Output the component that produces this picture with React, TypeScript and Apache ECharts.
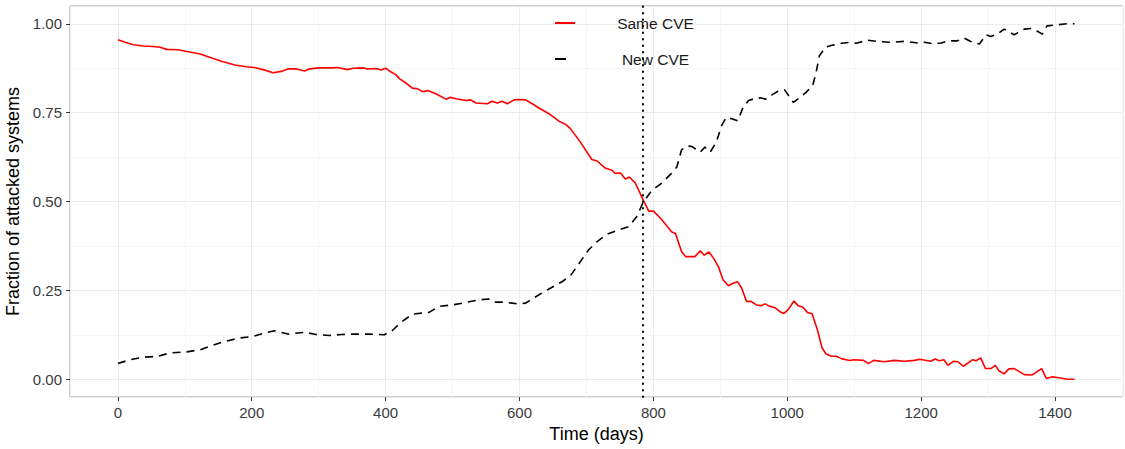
import React, { useEffect, useRef } from "react";
import * as echarts from "echarts";

// ---- data ----
const sameDays = [0, 11, 23, 38, 53, 63, 73, 90, 103, 123, 137, 157, 175, 192, 204, 217, 232, 244, 254, 267, 279, 286, 301, 321, 328, 343, 351, 366, 373, 386, 393, 400, 405, 415, 421, 430, 440, 448, 455, 463, 475, 490, 497, 505, 520, 527, 535, 552, 559, 567, 574, 582, 592, 599, 609, 619, 629, 644, 659, 669, 676, 691, 708, 716, 728, 738, 743, 751, 758, 764, 773, 785, 793, 800, 812, 827, 833, 842, 848, 862, 870, 876, 883, 890, 897, 904, 912, 919, 926, 932, 939, 946, 954, 961, 967, 974, 981, 989, 995, 1001, 1010, 1016, 1023, 1030, 1037, 1045, 1052, 1058, 1066, 1073, 1081, 1093, 1100, 1114, 1121, 1129, 1145, 1160, 1175, 1190, 1198, 1214, 1221, 1227, 1234, 1240, 1248, 1255, 1263, 1277, 1282, 1289, 1296, 1304, 1311, 1316, 1324, 1331, 1339, 1354, 1366, 1380, 1387, 1396, 1406, 1418, 1429];
const sameValues = [0.955, 0.948, 0.941, 0.9375, 0.936, 0.934, 0.928, 0.927, 0.922, 0.915, 0.906, 0.893, 0.884, 0.879, 0.877, 0.871, 0.862, 0.866, 0.873, 0.873, 0.867, 0.873, 0.876, 0.876, 0.877, 0.871, 0.875, 0.876, 0.873, 0.874, 0.87, 0.875, 0.868, 0.857, 0.845, 0.834, 0.819, 0.817, 0.809, 0.812, 0.803, 0.788, 0.793, 0.789, 0.784, 0.786, 0.777, 0.775, 0.782, 0.777, 0.782, 0.775, 0.786, 0.787, 0.786, 0.775, 0.763, 0.747, 0.726, 0.717, 0.705, 0.667, 0.618, 0.614, 0.594, 0.588, 0.579, 0.58, 0.563, 0.569, 0.552, 0.503, 0.473, 0.473, 0.45, 0.415, 0.41, 0.359, 0.345, 0.345, 0.361, 0.349, 0.358, 0.34, 0.317, 0.28, 0.263, 0.27, 0.274, 0.256, 0.219, 0.219, 0.209, 0.207, 0.212, 0.205, 0.202, 0.19, 0.185, 0.195, 0.22, 0.207, 0.203, 0.188, 0.184, 0.139, 0.088, 0.071, 0.0645, 0.0645, 0.058, 0.0525, 0.055, 0.053, 0.044, 0.053, 0.049, 0.053, 0.0505, 0.053, 0.056, 0.0505, 0.057, 0.052, 0.055, 0.039, 0.0505, 0.049, 0.0365, 0.055, 0.052, 0.06, 0.03, 0.03, 0.039, 0.024, 0.015, 0.029, 0.03, 0.013, 0.012, 0.03, 0.002, 0.0067, 0.004, 0.0, 0.0];

const newDays = [0, 18, 38, 60, 78, 103, 123, 140, 160, 182, 202, 219, 234, 254, 279, 296, 316, 334, 351, 376, 398, 410, 425, 440, 445, 465, 480, 500, 520, 540, 554, 562, 574, 589, 599, 609, 629, 646, 664, 676, 691, 703, 716, 731, 748, 763, 775, 785, 798, 812, 827, 835, 842, 850, 857, 862, 870, 877, 885, 894, 902, 909, 917, 926, 934, 942, 952, 959, 968, 977, 986, 996, 1009, 1019, 1028, 1038, 1043, 1048, 1057, 1068, 1081, 1093, 1103, 1120, 1135, 1155, 1175, 1195, 1205, 1220, 1230, 1240, 1254, 1264, 1274, 1287, 1297, 1304, 1314, 1324, 1339, 1354, 1366, 1381, 1388, 1403, 1418, 1429];
const newValues = [0.044, 0.055, 0.062, 0.0645, 0.074, 0.077, 0.083, 0.0945, 0.1065, 0.116, 0.1205, 0.13, 0.1365, 0.127, 0.132, 0.126, 0.123, 0.126, 0.127, 0.127, 0.125, 0.137, 0.163, 0.183, 0.184, 0.188, 0.205, 0.209, 0.216, 0.2235, 0.2255, 0.217, 0.217, 0.214, 0.2115, 0.214, 0.2375, 0.256, 0.275, 0.291, 0.331, 0.3635, 0.387, 0.4085, 0.42, 0.429, 0.457, 0.499, 0.532, 0.551, 0.579, 0.597, 0.645, 0.656, 0.655, 0.649, 0.639, 0.653, 0.639, 0.667, 0.714, 0.737, 0.733, 0.727, 0.765, 0.784, 0.79, 0.792, 0.788, 0.8, 0.81, 0.814, 0.779, 0.793, 0.807, 0.826, 0.863, 0.91, 0.934, 0.94, 0.945, 0.9476, 0.945, 0.954, 0.95, 0.948, 0.9505, 0.946, 0.948, 0.943, 0.946, 0.952, 0.952, 0.96, 0.95, 0.943, 0.969, 0.964, 0.971, 0.985, 0.969, 0.985, 0.987, 0.971, 0.994, 0.997, 1.0, 1.0];

const seriesNames = ["Same CVE", "New CVE"];
const cutoffDay = 784;
const xTitle = "Time (days)";
const yTitle = "Fraction of attacked systems";

const FONT = '"Liberation Sans", Arial, Helvetica, sans-serif';

function zip(xs: number[], ys: number[]) {
  return xs.map((x, i) => [x, ys[i]]);
}

export default function App() {
  const ref = useRef<HTMLDivElement>(null);
  useEffect(() => {
    if (!ref.current) return;
    const chart = echarts.init(ref.current, undefined, { renderer: "svg" });
    const option: any = {
      animation: false,
      backgroundColor: "#ffffff",
      textStyle: { fontFamily: FONT },
      grid: {
        left: 70,
        right: 2,
        top: 6,
        bottom: 52,
        show: true,
        borderColor: "#9a9a9a",
        borderWidth: 1,
        backgroundColor: "#ffffff",
        containLabel: false,
        outerBoundsMode: "none",
      },
      legend: [
        {
          data: [{ name: seriesNames[0], itemStyle: { color: "#ff0000", borderWidth: 0 } }],
          left: 555,
          top: 15,
          padding: 0,
          orient: "vertical",
          icon: "rect",
          itemWidth: 20,
          itemHeight: 2,
          selectedMode: false,
          formatter: "{c|{name}}",
          textStyle: {
            rich: { c: { width: 151, align: "center", fontSize: 15.5, lineHeight: 18, color: "#1a1a1a", fontFamily: FONT } },
          },
        },
        {
          data: [{ name: seriesNames[1], itemStyle: { color: "#000000", borderWidth: 0 } }],
          left: 555,
          top: 51,
          padding: 0,
          orient: "vertical",
          icon: "rect",
          itemWidth: 11,
          itemHeight: 2,
          selectedMode: false,
          formatter: "{c|{name}}",
          textStyle: {
            rich: { c: { width: 169, align: "center", fontSize: 15.5, lineHeight: 18, color: "#1a1a1a", fontFamily: FONT } },
          },
        },
      ],
      xAxis: {
        type: "value",
        min: -71.5,
        max: 1501.5,
        splitNumber: 7,
        minInterval: 200,
        maxInterval: 200,
        axisLine: { show: false, onZero: false },
        axisTick: { show: true, length: 4, lineStyle: { color: "#333333", width: 1 } },
        axisLabel: {
          showMinLabel: false,
          showMaxLabel: false,
          color: "#3a3a3a",
          fontSize: 15,
          margin: 8,
          fontFamily: FONT,
          formatter: (v: number) => String(v),
        },
        splitLine: { show: true, lineStyle: { color: "#ebebeb", width: 1 } },
        minorTick: { show: false, splitNumber: 2 },
        minorSplitLine: { show: true, lineStyle: { color: "#f5f5f5", width: 1 } },
        name: xTitle,
        nameLocation: "middle",
        nameGap: 24,
        nameTextStyle: { color: "#000000", fontSize: 18, fontFamily: FONT },
      },
      yAxis: {
        type: "value",
        min: -0.05,
        max: 1.05,
        splitNumber: 4,
        minInterval: 0.25,
        maxInterval: 0.25,
        axisLine: { show: false, onZero: false },
        axisTick: { show: true, length: 4, lineStyle: { color: "#333333", width: 1 } },
        axisLabel: {
          showMinLabel: false,
          showMaxLabel: false,
          color: "#3a3a3a",
          fontSize: 15,
          margin: 8,
          fontFamily: FONT,
          formatter: (v: number) => v.toFixed(2),
        },
        splitLine: { show: true, lineStyle: { color: "#ebebeb", width: 1 } },
        minorTick: { show: false, splitNumber: 2 },
        minorSplitLine: { show: true, lineStyle: { color: "#f5f5f5", width: 1 } },
        name: yTitle,
        nameLocation: "middle",
        nameGap: 40,
        nameTextStyle: { color: "#000000", fontSize: 18, fontFamily: FONT },
      },
      series: [
        {
          type: "line",
          name: seriesNames[0],
          data: zip(sameDays, sameValues),
          symbol: "none",
          showSymbol: false,
          lineStyle: { color: "#ff0000", width: 1.6 },
          itemStyle: { color: "#ff0000" },
          z: 3,
        },
        {
          type: "line",
          name: seriesNames[1],
          data: zip(newDays, newValues),
          symbol: "none",
          showSymbol: false,
          lineStyle: { color: "#000000", width: 1.6, type: [8, 6] },
          itemStyle: { color: "#000000" },
          z: 2,
          markLine: {
            silent: true,
            symbol: ["none", "none"],
            label: { show: false },
            lineStyle: { color: "#000000", width: 2, type: [0.5, 6], cap: "round" },
            data: [{ xAxis: cutoffDay }],
          },
        },
      ],
    };
    chart.setOption(option);
    return () => chart.dispose();
  }, []);
  return (
    <div
      ref={ref}
      style={{ position: "fixed", left: 0, top: 0, width: 1125, height: 449, background: "#fff" }}
    />
  );
}
